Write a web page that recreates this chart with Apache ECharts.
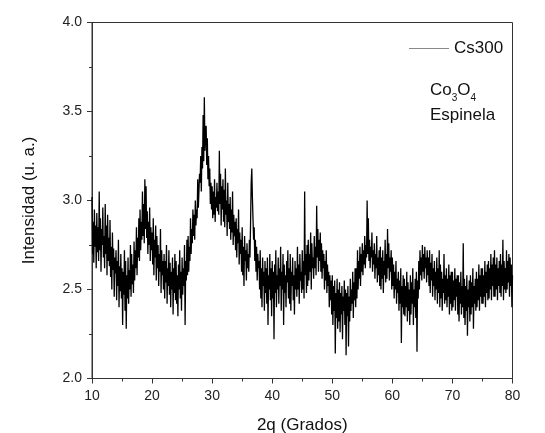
<!DOCTYPE html>
<html>
<head>
<meta charset="utf-8">
<script src="https://cdn.jsdelivr.net/npm/echarts@6/dist/echarts.min.js"></script>
<style>html,body{margin:0;padding:0;background:#fff}#c{width:545px;height:433px}</style>
</head>
<body>
<div id="c"></div>
<script>
// 2θ scan: starts at 10°, step 0.1°
const startAngle = 10;
const stepAngle = 0.1;
const seriesName = 'Cs300';
const xTicks = [10, 20, 30, 40, 50, 60, 70, 80];
const yTicks = ['2.0', '2.5', '3.0', '3.5', '4.0'];
const intensity = [
// 10
3.02,2.70,2.88,2.65,2.95,2.74,2.86,2.62,2.93,2.71,
// 11
2.85,2.66,3.05,2.72,2.90,2.60,2.84,2.75,2.96,2.68,
// 12
2.80,2.62,2.98,2.70,2.86,2.58,2.92,2.66,2.79,2.63,
// 13
2.89,2.57,2.74,2.50,2.82,2.61,2.73,2.46,2.68,2.59,
// 14
2.72,2.44,2.66,2.52,2.78,2.40,2.63,2.49,2.70,2.45,
// 15
2.62,2.30,2.60,2.47,2.72,2.38,2.66,2.28,2.58,2.45,
// 16
2.68,2.42,2.61,2.50,2.75,2.46,2.70,2.53,2.64,2.48,
// 17
2.77,2.55,2.72,2.62,2.85,2.58,2.79,2.68,2.90,2.66,
// 18
2.95,2.72,2.88,2.78,3.05,2.80,2.98,2.76,3.12,2.84,
// 19
3.08,2.79,2.94,2.70,2.88,2.75,2.96,2.66,2.85,2.72,
// 20
2.82,2.64,2.90,2.58,2.78,2.68,2.86,2.55,2.80,2.62,
// 21
2.75,2.52,2.70,2.60,2.84,2.48,2.72,2.58,2.66,2.50,
// 22
2.70,2.45,2.66,2.54,2.75,2.42,2.62,2.52,2.72,2.47,
// 23
2.65,2.40,2.60,2.50,2.68,2.36,2.62,2.48,2.70,2.44,
// 24
2.66,2.42,2.58,2.35,2.64,2.50,2.72,2.45,2.60,2.38,
// 25
2.68,2.47,2.62,2.52,2.75,2.30,2.66,2.55,2.78,2.58,
// 26
2.80,2.60,2.74,2.66,2.90,2.70,2.84,2.76,2.95,2.80,
// 27
2.92,2.78,3.00,2.86,2.95,2.90,3.12,2.96,3.05,3.15,
// 28
3.10,3.25,3.05,3.30,3.18,3.48,3.22,3.58,3.28,3.40,
// 29
3.42,3.20,3.35,3.12,3.25,3.08,3.18,2.98,3.10,2.95,
// 30
3.08,2.90,3.05,2.92,3.12,2.88,3.02,2.96,3.10,2.94,
// 31
3.05,2.92,3.28,2.98,3.15,2.86,3.08,2.95,3.12,2.88,
// 32
3.06,2.85,3.18,2.92,3.00,2.80,3.10,2.88,2.98,2.84,
// 33
3.02,2.78,2.95,2.82,3.05,2.75,2.92,2.80,2.88,2.72,
// 34
2.90,2.68,2.84,2.76,2.95,2.64,2.82,2.70,2.78,2.60,
// 35
2.85,2.58,2.74,2.52,2.80,2.66,2.72,2.55,2.76,2.62,
// 36
2.70,2.60,2.78,2.68,2.88,3.10,3.18,3.02,2.90,2.78,
// 37
2.85,2.66,2.78,2.60,2.74,2.55,2.70,2.62,2.66,2.50,
// 38
2.72,2.45,2.62,2.40,2.68,2.52,2.60,2.38,2.66,2.48,
// 39
2.62,2.42,2.68,2.30,2.58,2.50,2.70,2.44,2.62,2.35,
// 40
2.66,2.45,2.60,2.22,2.64,2.48,2.72,2.40,2.58,2.50,
// 41
2.68,2.42,2.62,2.52,2.74,2.38,2.60,2.50,2.70,2.30,
// 42
2.64,2.48,2.58,2.40,2.66,2.54,2.72,2.45,2.62,2.42,
// 43
2.70,2.38,2.60,2.52,2.68,2.44,2.58,2.36,2.66,2.50,
// 44
2.62,2.46,2.74,2.50,2.64,2.42,2.70,2.55,2.60,2.48,
// 45
2.72,2.50,2.66,2.45,3.05,2.58,2.70,2.48,2.75,2.52,
// 46
2.78,2.55,2.70,2.60,2.82,2.50,2.76,2.62,2.68,2.56,
// 47
2.80,2.62,2.74,2.58,2.97,2.68,2.84,2.60,2.78,2.66,
// 48
2.82,2.60,2.76,2.56,2.72,2.62,2.70,2.50,2.66,2.55,
// 49
2.72,2.48,2.64,2.52,2.60,2.40,2.58,2.44,2.55,2.36,
// 50
2.58,2.30,2.52,2.38,2.55,2.14,2.48,2.34,2.56,2.28,
// 51
2.50,2.32,2.54,2.26,2.48,2.36,2.52,2.22,2.46,2.38,
// 52
2.55,2.30,2.50,2.13,2.48,2.35,2.52,2.18,2.46,2.32,
// 53
2.56,2.38,2.50,2.42,2.60,2.34,2.54,2.44,2.62,2.40,
// 54
2.62,2.45,2.72,2.50,2.66,2.56,2.74,2.52,2.70,2.60,
// 55
2.76,2.58,2.72,2.64,2.80,2.62,2.75,2.68,3.00,2.70,
// 56
2.90,2.66,2.78,2.62,2.74,2.68,2.82,2.60,2.72,2.64,
// 57
2.76,2.56,2.70,2.62,2.80,2.54,2.68,2.58,2.72,2.52,
// 58
2.74,2.50,2.68,2.56,2.72,2.48,2.66,2.58,2.78,2.54,
// 59
2.70,2.56,2.84,2.62,2.76,2.55,2.68,2.60,2.72,2.50,
// 60
2.68,2.52,2.64,2.45,2.60,2.50,2.66,2.42,2.56,2.48,
// 61
2.60,2.38,2.55,2.42,2.62,2.20,2.52,2.40,2.58,2.36,
// 62
2.56,2.35,2.52,2.40,2.60,2.32,2.54,2.38,2.50,2.30,
// 63
2.58,2.36,2.54,2.42,2.62,2.30,2.50,2.40,2.56,2.34,
// 64
2.60,2.15,2.55,2.45,2.66,2.50,2.72,2.58,2.68,2.55,
// 65
2.75,2.60,2.70,2.56,2.74,2.62,2.68,2.54,2.72,2.58,
// 66
2.68,2.52,2.72,2.48,2.65,2.55,2.70,2.46,2.62,2.52,
// 67
2.66,2.44,2.60,2.50,2.68,2.42,2.62,2.48,2.72,2.40,
// 68
2.64,2.45,2.60,2.38,2.56,2.48,2.70,2.42,2.58,2.44,
// 69
2.62,2.40,2.56,2.46,2.64,2.36,2.58,2.42,2.60,2.38,
// 70
2.60,2.40,2.55,2.44,2.62,2.38,2.56,2.46,2.58,2.36,
// 71
2.58,2.32,2.54,2.42,2.60,2.36,2.52,2.40,2.76,2.34,
// 72
2.56,2.30,2.52,2.38,2.58,2.24,2.50,2.40,2.55,2.32,
// 73
2.58,2.36,2.54,2.40,2.62,2.28,2.52,2.42,2.56,2.38,
// 74
2.60,2.40,2.56,2.44,2.64,2.38,2.58,2.46,2.62,2.42,
// 75
2.62,2.42,2.58,2.46,2.66,2.40,2.60,2.48,2.64,2.44,
// 76
2.66,2.45,2.62,2.50,2.70,2.44,2.64,2.52,2.68,2.46,
// 77
2.72,2.46,2.64,2.50,2.68,2.44,2.62,2.52,2.66,2.48,
// 78
2.70,2.46,2.64,2.52,2.78,2.44,2.66,2.50,2.62,2.48,
// 79
2.72,2.50,2.66,2.54,2.70,2.46,2.68,2.52,2.64,2.40,
// 80
2.58
];

const points = intensity.map((v, i) => [+(startAngle + i * stepAngle).toFixed(2), v]);
const FONT = 'Liberation Sans, Arial, sans-serif';
const chart = echarts.init(document.getElementById('c'));
chart.setOption({
  animation: false,
  backgroundColor: '#fff',
  grid: { left: 92, top: 22.5, width: 420.5, height: 356, show: true, borderColor: '#333', borderWidth: 1, backgroundColor: 'transparent', outerBoundsMode: 'none', containLabel: false },
  legend: {
    left: 404, top: 35, itemWidth: 40, itemHeight: 1, itemGap: 4,
    icon: 'rect',
    textStyle: { fontFamily: FONT, fontSize: 17, color: '#111' },
    data: [{ name: seriesName, itemStyle: { color: '#888' } }]
  },
  xAxis: {
    type: 'value', min: xTicks[0], max: xTicks[xTicks.length - 1], interval: 10,
    name: '2q (Grados)', nameLocation: 'middle', nameGap: 38,
    nameTextStyle: { fontFamily: FONT, fontSize: 17, color: '#111' },
    axisLine: { lineStyle: { color: '#333', width: 1 } },
    axisTick: { show: true, inside: false, length: 5, lineStyle: { color: '#333' } },
    minorTick: { show: true, splitNumber: 2, length: 3, lineStyle: { color: '#333' } },
    axisLabel: { fontFamily: FONT, fontSize: 14, color: '#222', margin: 11 },
    splitLine: { show: false }
  },
  yAxis: {
    type: 'value', min: 2.0, max: 4.0, interval: 0.5,
    name: 'Intensidad (u. a.)', nameLocation: 'middle', nameGap: 54,
    nameTextStyle: { fontFamily: FONT, fontSize: 17, color: '#111' },
    axisLine: { show: true, lineStyle: { color: '#333', width: 1 } },
    axisTick: { show: true, inside: false, length: 5, lineStyle: { color: '#333' } },
    minorTick: { show: true, splitNumber: 2, length: 3, lineStyle: { color: '#333' } },
    axisLabel: { fontFamily: FONT, fontSize: 14, color: '#222', margin: 10,
      formatter: v => yTicks.find(t => Math.abs(parseFloat(t) - v) < 1e-6) || v.toFixed(1) },
    splitLine: { show: false }
  },
  graphic: [{
    type: 'text', left: 430, top: 82,
    style: {
      text: '{b|Co}{s|3}{b|O}{s|4}\n{b|Espinela}',
      rich: {
        b: { fontFamily: FONT, fontSize: 17, fill: '#111', lineHeight: 25 },
        s: { fontFamily: FONT, fontSize: 10, fill: '#111', verticalAlign: 'bottom', padding: [10, 0, 0, 0], lineHeight: 25 }
      }
    }
  }],
  series: [{
    name: seriesName, type: 'line', data: points, showSymbol: false, symbol: 'none',
    lineStyle: { color: '#000', width: 1.3 }, itemStyle: { color: '#888' },
    clip: true
  }]
});
</script>
</body>
</html>
